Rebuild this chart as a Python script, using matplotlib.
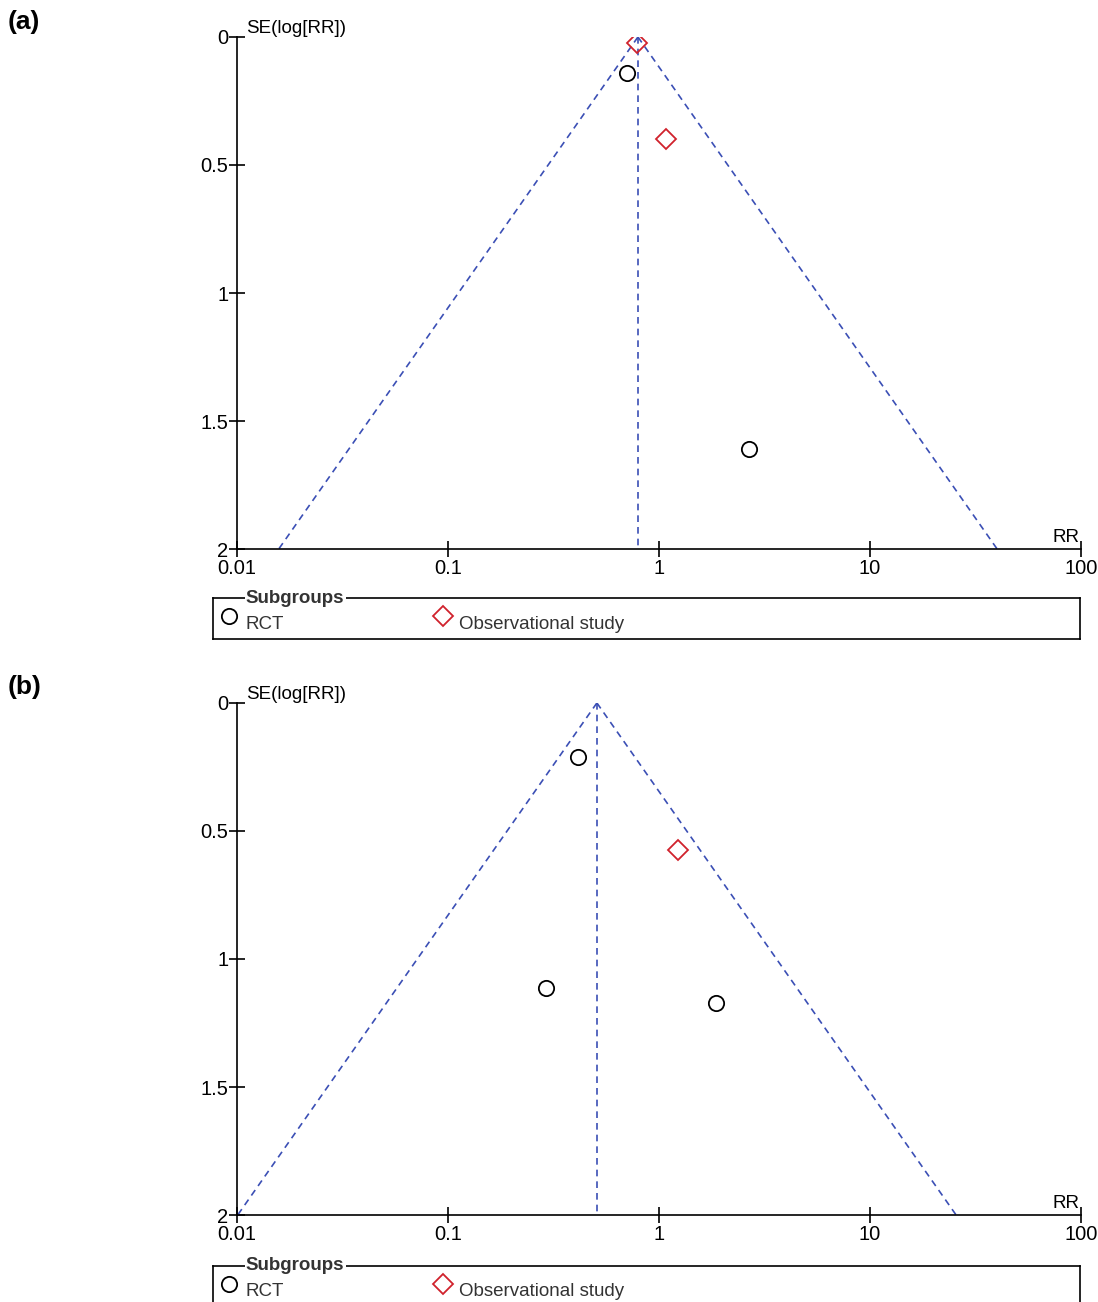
import matplotlib as mpl
mpl.use('agg')
import matplotlib.pyplot as plt
import numpy as np

plt.rcParams['font.family'] = ['Liberation Sans', 'DejaVu Sans']

# panel (a)
a_pooled = 0.795
a_rct_rr = [0.705, 2.67]
a_rct_se = [0.141, 1.61]
a_obs_rr = [0.787, 1.079]
a_obs_se = [0.023, 0.398]

# panel (b)
b_pooled = 0.508
b_rct_rr = [0.413, 0.291, 1.863]
b_rct_se = [0.211, 1.113, 1.172]
b_obs_rr = [1.23]
b_obs_se = [0.574]

xticks = [0.01, 0.1, 1, 10, 100]
xticklabels = ['0.01', '0.1', '1', '10', '100']
yticks = [0, 0.5, 1, 1.5, 2]
yticklabels = ['0', '0.5', '1', '1.5', '2']

blue = '#3b4fb5'
red = '#d0222c'
fs = 13.5
tfs = 14.5


def funnel(ax, pooled, rct_rr, rct_se, obs_rr, obs_se):
    se = np.array([0, 2.0])
    lo = np.exp(np.log(pooled) - 1.96 * se)
    hi = np.exp(np.log(pooled) + 1.96 * se)
    ax.plot(lo, se, ls=(0, (4, 3)), color=blue, lw=1.2)
    ax.plot(hi, se, ls=(0, (4, 3)), color=blue, lw=1.2)
    ax.plot([pooled, pooled], [0, 2], ls=(0, (4, 3)), color=blue, lw=1.2)
    ax.plot(rct_rr, rct_se, 'o', ms=11, mfc='none', mec='black', mew=1.3, ls='none')
    ax.plot(obs_rr, obs_se, 'D', ms=10, mfc='none', mec=red, mew=1.3, ls='none')

    ax.set_xscale('log')
    ax.set_xlim(0.01, 100)
    ax.set_ylim(2, 0)
    ax.set_xticks(xticks)
    ax.set_xticklabels(xticklabels)
    ax.xaxis.set_minor_locator(mpl.ticker.NullLocator())
    ax.set_yticks(yticks)
    ax.set_yticklabels(yticklabels)
    ax.tick_params(direction='inout', length=12, width=1.2, labelsize=tfs, pad=0)
    ax.tick_params(axis='x', pad=1)
    for s in ['top', 'right']:
        ax.spines[s].set_visible(False)
    for s in ['left', 'bottom']:
        ax.spines[s].set_linewidth(1.2)
    ax.text(0.011, 1.0, 'SE(log[RR])', transform=ax.transAxes, fontsize=fs,
            ha='left', va='bottom')
    ax.text(0.998, 0.005, 'RR', transform=ax.transAxes, fontsize=fs,
            ha='right', va='bottom')


def legendbox(fig, bottom):
    lax = fig.add_axes([0.194, bottom, 0.7896, 0.0315])
    lax.set_xlim(0, 1)
    lax.set_ylim(0, 1)
    lax.set_xticks([])
    lax.set_yticks([])
    for s in lax.spines.values():
        s.set_linewidth(1.2)
    lax.text(0.038, 1.0, 'Subgroups', fontsize=fs, fontweight='bold',
             ha='left', va='center', color='#333333',
             bbox=dict(fc='white', ec='none', pad=1))
    lax.plot([0.019], [0.55], 'o', ms=11, mfc='none', mec='black', mew=1.3,
             clip_on=False)
    lax.text(0.038, 0.36, 'RCT', fontsize=fs, ha='left', va='center', color='#333333')
    lax.plot([0.265], [0.55], 'D', ms=10, mfc='none', mec=red, mew=1.3,
             clip_on=False)
    lax.text(0.284, 0.36, 'Observational study', fontsize=fs, ha='left',
             va='center', color='#333333')


fig = plt.figure(figsize=(10.98, 13.02), dpi=100)

ax1 = fig.add_axes([0.2158, 0.5783, 0.7687, 0.3933])
funnel(ax1, a_pooled, a_rct_rr, a_rct_se, a_obs_rr, a_obs_se)
legendbox(fig, 0.5092)

ax2 = fig.add_axes([0.2158, 0.0668, 0.7687, 0.3933])
funnel(ax2, b_pooled, b_rct_rr, b_rct_se, b_obs_rr, b_obs_se)
legendbox(fig, -0.0035)

fig.text(0.007, 0.983, '(a)', fontsize=19, fontweight='bold', ha='left', va='center')
fig.text(0.007, 0.472, '(b)', fontsize=19, fontweight='bold', ha='left', va='center')

plt.savefig('out.png', dpi=100)
plt.close(fig)
